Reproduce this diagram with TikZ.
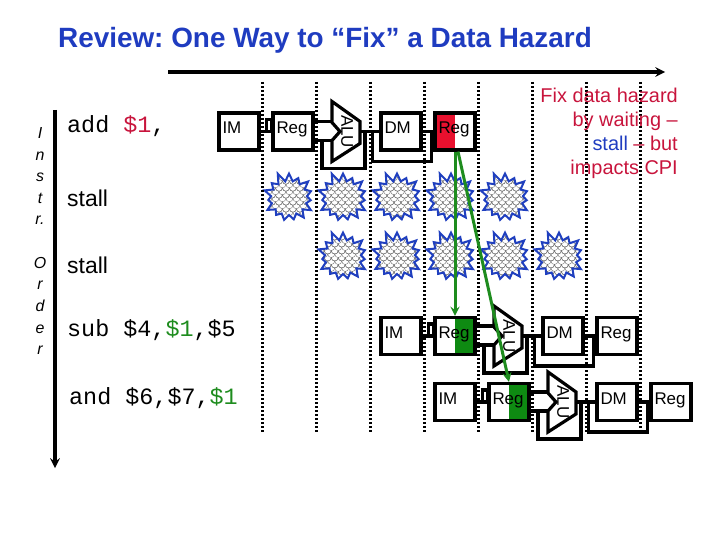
\documentclass[tikz,border=0pt]{standalone}
\usepackage{fontspec}
\setmainfont{Liberation Sans}
\setmonofont{Liberation Mono}
\frenchspacing
\usetikzlibrary{arrows, shapes.symbols, patterns, positioning}
\definecolor{azultit}{HTML}{1F3CC0}
\definecolor{carmin}{HTML}{C8143C}
\definecolor{rojoreg}{HTML}{E8102E}
\definecolor{verdefw}{HTML}{1E8C1E}
\definecolor{verdereg}{HTML}{0E8A12}
\definecolor{azulbur}{HTML}{1F3FBF}
\pgfdeclarepatternformonly{escamas}{\pgfqpoint{-4pt}{-1pt}}{\pgfqpoint{11pt}{9pt}}{\pgfqpoint{7pt}{7pt}}{
  \pgfsetlinewidth{0.4pt}
  \pgfpathmoveto{\pgfqpoint{0pt}{7pt}}\pgfpatharc{180}{360}{3.5pt}
  \pgfpathmoveto{\pgfqpoint{-3.5pt}{3.5pt}}\pgfpatharc{180}{360}{3.5pt}
  \pgfpathmoveto{\pgfqpoint{3.5pt}{3.5pt}}\pgfpatharc{180}{360}{3.5pt}
  \pgfusepath{stroke}
}
\tikzset{
  etapa/.style={rectangle, draw=black, fill=white, line width=3.2bp, minimum width=40bp, minimum height=37bp,
                text width=33bp, inner sep=3bp, align=left, text height=13bp, text depth=9bp,
                font=\fontsize{17}{17}\selectfont},
  mitadroja/.style={path picture={\fill[rojoreg] (path picture bounding box.south west) rectangle (path picture bounding box.north);}},
  mitadverde/.style={path picture={\fill[verdereg] (path picture bounding box.south) rectangle (path picture bounding box.north east);}},
  simple/.style={},
  cable/.style={line width=3.2bp, black},
  ciclo/.style={line width=3bp, dash pattern=on 2.4bp off 1.6bp},
  burbuja/.style={starburst, starburst points=15, starburst point height=10bp, random starburst=11,
                  minimum width=56bp, minimum height=54bp, draw=azulbur, line width=2bp,
                  preaction={fill=white}, pattern=escamas, pattern color=black!55, inner sep=0pt},
  instr/.style={anchor=west, inner sep=0pt, font=\fontsize{23.5}{23.5}\selectfont\ttfamily},
  parada/.style={anchor=west, inner sep=0pt, font=\fontsize{23}{23}\selectfont},
  adelanto/.style={line width=3bp, color=verdefw, ->, >=stealth},
  eje/.style={line width=3.2bp, ->, >=stealth}
}
\begin{document}
\begin{tikzpicture}[x=1bp, y=-1bp]
  \useasboundingbox (0,0) rectangle (720,540);
  \node (titulo) [font=\fontsize{28}{28}\selectfont\bfseries, text=azultit] at (325,40) {Review: One Way to “Fix” a Data Hazard};
  % ejes
  \coordinate (t0) at (168,72); \coordinate (t1) at (665,72);
  \draw [eje] (t0) -- (t1);
  \coordinate (o0) at (55,110); \coordinate (o1) at (55,468);
  \draw [eje] (o0) -- (o1);
  \node (orden) [font=\fontsize{16}{21.7}\selectfont\itshape, align=center, anchor=north] at (40,124)
    {I\\n\\s\\t\\r.\\[21.7bp]O\\r\\d\\e\\r};
  % burbujas
  \foreach \x [count=\i] in {289,343,...,505} \node (pa\i) [burbuja] at (\x,198) {};
  \foreach \x [count=\i] in {343,397,...,559} \node (pb\i) [burbuja] at (\x,257) {};
  \foreach \x in {262,316,...,640} \draw [ciclo] (\x,82) -- (\x,432);
  % instrucciones
  \node (i1) [instr] at (67,126) {add \textcolor{carmin}{\$1},};
  \node (i2) [parada] at (67,198) {stall};
  \node (i3) [parada] at (67,265) {stall};
  \node (i4) [instr] at (67,330) {sub \$4,\textcolor{verdefw}{\$1},\$5};
  \node (i5) [instr] at (69,398) {and \$6,\$7,\textcolor{verdefw}{\$1}};
  % etapas
  \foreach \n/\bx/\cy/\rs/\ws in {1/208/131.5/simple/mitadroja, 4/370/336/mitadverde/simple, 5/424/402/mitadverde/simple}{
    \node (im\n) [etapa] at (\bx+31,\cy) {IM};
    \node (rg\n) [etapa,\rs] at (\bx+85,\cy) {Reg};
    \coordinate (alu\n) at (\bx+124,\cy);
    \coordinate (alo\n) at (\bx+152,\cy);
    \node (dm\n) [etapa] at (\bx+193,\cy) {DM};
    \node (wb\n) [etapa,\ws] at (\bx+247,\cy) {Reg};
    \draw [cable] (alu\n) ++(0,-9) -- ++(0,-21) -- ++(28,20) -- ++(0,22) -- ++(-28,18) -- ++(0,-21) -- ++(8,-9) -- cycle;
    \node (al\n) [rotate=-90, font=\fontsize{17}{17}\selectfont] at (\bx+139,\cy) {ALU};
    \draw [cable] (im\n) -- (rg\n);
    \draw [cable] ([xshift=-5bp]rg\n.west) rectangle ([yshift=12bp]rg\n.west);
    \draw [cable] ([yshift=10bp]rg\n.east) -- ([yshift=10bp]alu\n);
    \draw [cable] ([yshift=-9bp]rg\n.east) -- ([yshift=-9bp]alu\n);
    \draw [cable] ([shift={(-10bp,-9bp)}]alu\n) -- ++(0,28) -| ([xshift=5bp]alo\n);
    \draw [cable] (alo\n) -- (dm\n);
    \draw [cable] ([xshift=-7bp]dm\n.west) -- ++(0,30) -| ([xshift=9bp]dm\n.east);
    \draw [cable] (dm\n) -- (wb\n);
  }
  \draw [adelanto] (wb1.south) -- (rg4.north);
  \draw [adelanto] ([xshift=3bp]wb1.south) -- (rg5.north);
  \node (nota) [anchor=north east, align=right, text=carmin, inner sep=0pt, font=\fontsize{20}{24}\selectfont] at (678,88)
    {Fix data hazard\\by waiting –\\\textcolor{azultit}{stall} – but\\impacts CPI};
\end{tikzpicture}
\end{document}
